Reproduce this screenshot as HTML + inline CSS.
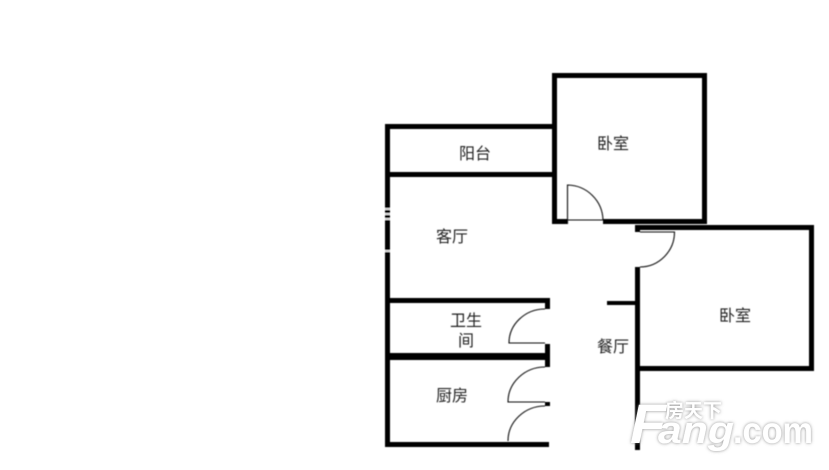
<!DOCTYPE html>
<html><head><meta charset="utf-8">
<style>html,body{margin:0;padding:0;background:#fff;width:829px;height:470px;overflow:hidden}svg{display:block}
.l{font-family:"Liberation Sans","Noto Sans CJK SC",sans-serif;font-size:16px;fill:#222;text-anchor:middle}
</style></head><body>
<svg width="829" height="470" viewBox="0 0 829 470" xmlns="http://www.w3.org/2000/svg">
<defs><filter id="b" x="-5%" y="-5%" width="110%" height="110%"><feGaussianBlur stdDeviation="0.45"/></filter>
<filter id="s" x="-10%" y="-20%" width="120%" height="140%"><feDropShadow dx="0" dy="0" stdDeviation="1.5" flood-color="#777" flood-opacity="0.85"/></filter></defs>
<rect width="829" height="470" fill="#fff"/>
<g filter="url(#b)">
<g fill="#000">
<!-- bedroom 1 -->
<rect x="552" y="73" width="155" height="5"/>
<rect x="552" y="73" width="5" height="151"/>
<rect x="702" y="73" width="5" height="151"/>
<rect x="552" y="219" width="15" height="5"/>
<rect x="603" y="219" width="104" height="5"/>
<!-- balcony / living -->
<rect x="385" y="124" width="167" height="5"/>
<rect x="385" y="172" width="167" height="5"/>
<rect x="385" y="124" width="5" height="323"/>
<!-- bath / kitchen -->
<rect x="385" y="298" width="165" height="5"/>
<rect x="545" y="298" width="5" height="11"/>
<rect x="385" y="353" width="165" height="7"/>
<rect x="545" y="344" width="5" height="23"/>
<rect x="545" y="402" width="5" height="4"/>
<rect x="385" y="442" width="164" height="5"/>
<!-- bedroom 2 -->
<rect x="635" y="225" width="179" height="5"/>
<rect x="635" y="225" width="5" height="7"/>
<rect x="809" y="225" width="5" height="146"/>
<rect x="635" y="366" width="179" height="5"/>
<rect x="635" y="267" width="5" height="183"/>
<rect x="607" y="301" width="29" height="4"/>
</g>
<g fill="#ddd">
<rect x="385" y="208" width="5" height="2"/><rect x="385" y="213" width="5" height="2"/><rect x="385" y="218" width="5" height="2"/>
<rect x="385" y="250" width="5" height="2"/>
</g>
<g fill="none" stroke="#111" stroke-width="1.1">
<path d="M567.500 224V185A36 36 0 0 1 603 220M567 220H603"/>
<path d="M640 232H674.500A35 35 0 0 1 640 267"/>
<path d="M545 309A36 34 0 0 0 509 343H545"/>
<path d="M545 367A37 35 0 0 0 508 402H545"/>
<path d="M545 406A37 35 0 0 0 508 441"/>
</g>
<text class="l" x="475" y="159">阳台</text>
<text class="l" x="613" y="149">卧室</text>
<text class="l" x="452" y="242">客厅</text>
<text class="l" x="466" y="326">卫生</text>
<text class="l" x="466" y="346">间</text>
<text class="l" x="613" y="352">餐厅</text>
<text class="l" x="452" y="401">厨房</text>
<text class="l" x="735" y="321">卧室</text>
</g>
<g filter="url(#s)" fill="#fff" font-weight="bold" font-family="'Liberation Sans','Noto Sans CJK SC',sans-serif">
<text x="630" y="443" font-size="56" font-style="italic" textLength="36" lengthAdjust="spacingAndGlyphs">F</text>
<text x="665" y="417" font-size="19">房天下</text>
<text x="658" y="443" font-size="38" font-style="italic" textLength="76" lengthAdjust="spacingAndGlyphs">ang</text>
<text x="733" y="443" font-size="37" textLength="80" lengthAdjust="spacingAndGlyphs">.com</text>
</g>
</svg>
</body></html>
